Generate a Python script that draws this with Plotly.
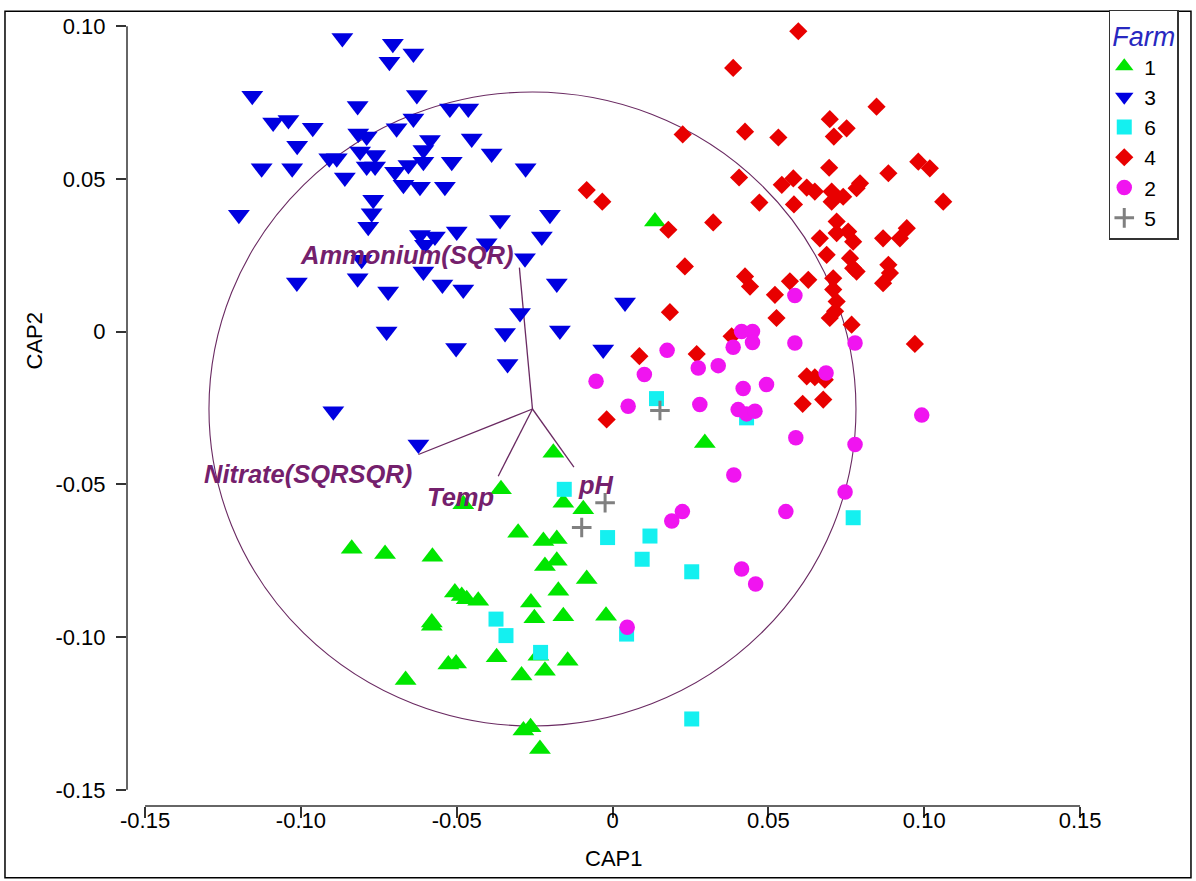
import plotly.graph_objects as go

# ---- CAP ordination scores per farm ----
farm1_x = [0.0136, 0.0296, -0.0190, -0.0358, -0.0479, -0.0158, -0.0094, -0.0303, -0.0222, -0.0179,
           -0.0837, -0.0730, -0.0578, -0.0217, -0.0179, -0.0083, -0.0506, -0.0484, -0.0468, -0.0431,
           -0.0174, -0.0262, -0.0251, -0.0158, -0.0021, -0.0580, -0.0580, -0.0372, -0.0527, -0.0502,
           -0.0292, -0.0217, -0.0144, -0.0664, -0.0286, -0.0263, -0.0233, -0.0238]
farm1_y = [0.0361, -0.0364, -0.0396, -0.0516, -0.0565, -0.0560, -0.0581, -0.0658, -0.0685, -0.0679,
           -0.0711, -0.0728, -0.0737, -0.0767, -0.0750, -0.0810, -0.0854, -0.0865, -0.0876, -0.0881,
           -0.0848, -0.0887, -0.0938, -0.0932, -0.0930, -0.0952, -0.0963, -0.1066, -0.1090, -0.1086,
           -0.1126, -0.1110, -0.1077, -0.1140, -0.1306, -0.1295, -0.1366, -0.1061]

farm3_x = [-0.0867, -0.0716, -0.1156, -0.0818, -0.1089, -0.1040, -0.0962, -0.1012, -0.0816, -0.0789,
           -0.1126, -0.1028, -0.0909, -0.0885, -0.0859, -0.0810, -0.0762, -0.0789, -0.0762, -0.0768,
           -0.0773, -0.0784, -0.1199, -0.0805, -0.1013, -0.0818, -0.0705, -0.0639, -0.0628, -0.0522,
           -0.0463, -0.0639, -0.0693, -0.0586, -0.0607, -0.0452, -0.0388, -0.0279, -0.0655, -0.0607,
           -0.0516, -0.0698, -0.0671, -0.0618, -0.0538, -0.0201, -0.0361, -0.0227, -0.0618, -0.0570,
           -0.0500, -0.0602, -0.0404, -0.0281, -0.0607, -0.0546, -0.0179, -0.0720, -0.0479, -0.0297,
           -0.0725, -0.0345, -0.0169, -0.0502, -0.0337, -0.0030, 0.0040, -0.0623, -0.0896]
farm3_y = [0.0962, 0.0884, 0.0773, 0.0739, 0.0685, 0.0693, 0.0668, 0.0609, 0.0649, 0.0639,
           0.0535, 0.0535, 0.0568, 0.0568, 0.0505, 0.0590, 0.0579, 0.0541, 0.0541, 0.0432,
           0.0388, 0.0344, 0.0383, 0.0236, 0.0161, 0.0175, 0.0943, 0.0911, 0.0775, 0.0731,
           0.0731, 0.0698, 0.0666, 0.0628, 0.0595, 0.0633, 0.0584, 0.0535, 0.0546, 0.0557,
           0.0557, 0.0524, 0.0481, 0.0475, 0.0475, 0.0383, 0.0366, 0.0312, 0.0317, 0.0312,
           0.0328, 0.0285, 0.0290, 0.0241, 0.0197, 0.0155, 0.0158, 0.0132, 0.0138, 0.0061,
           0.0001, -0.0004, 0.0004, -0.0053, -0.0106, -0.0058, 0.0096, -0.0369, -0.0260]

farm6_x = [-0.0155, -0.0016, 0.0120, 0.0095, 0.0254, 0.0045, 0.0254, -0.0374, -0.0342, -0.0231,
           0.0141, 0.0430, 0.0772]
farm6_y = [-0.0516, -0.0674, -0.0669, -0.0745, -0.0786, -0.0990, -0.1268, -0.0941, -0.0995, -0.1050,
           -0.0219, -0.0282, -0.0609]

farm4_x = [0.0596, 0.0387, 0.0225, 0.0425, 0.0532, 0.0697, 0.0751, 0.0710, 0.0695, 0.0406,
           0.0543, 0.0580, 0.0623, 0.0649, 0.0703, 0.0740, 0.0783, 0.0703, 0.0471, 0.0582,
           0.0323, 0.0179, -0.0033, -0.0083, 0.0719, 0.0665, 0.0719, 0.0756, 0.0687, 0.0762,
           0.0232, 0.0425, 0.0441, 0.0521, 0.0569, 0.0628, 0.0526, 0.0772, 0.0184, 0.0086,
           0.0270, 0.0382, -0.0019, 0.0623, 0.0649, 0.0681, 0.0610, 0.0676, 0.0697, 0.0714,
           0.0719, 0.0708, 0.0708, 0.0767, 0.0783, 0.0868, 0.0890, 0.0970, 0.0847, 0.0981,
           0.1018, 0.0885, 0.0794, 0.1061, 0.0868, 0.0922, 0.0944, 0.0885, 0.0772]
farm4_y = [0.0984, 0.0864, 0.0646, 0.0655, 0.0636, 0.0696, 0.0666, 0.0639, 0.0537, 0.0505,
           0.0481, 0.0502, 0.0472, 0.0459, 0.0459, 0.0442, 0.0470, 0.0426, 0.0423, 0.0417,
           0.0358, 0.0334, 0.0426, 0.0464, 0.0361, 0.0306, 0.0323, 0.0328, 0.0252, 0.0241,
           0.0214, 0.0181, 0.0148, 0.0121, 0.0165, 0.0170, 0.0045, 0.0295, 0.0064, -0.0080,
           -0.0073, -0.0015, -0.0287, -0.0146, -0.0149, -0.0157, -0.0236, -0.0222, 0.0045, 0.0067,
           0.0099, 0.0138, 0.0175, 0.0023, 0.0197, 0.0159, 0.0192, -0.0040, 0.0737, 0.0557,
           0.0535, 0.0519, 0.0486, 0.0426, 0.0306, 0.0306, 0.0339, 0.0219, 0.0208]

farm2_x = [0.0585, 0.0175, 0.0102, 0.0050, 0.0275, 0.0339, 0.0387, 0.0414, 0.0449, 0.0449,
           0.0585, 0.0419, 0.0494, 0.0280, 0.0403, 0.0430, 0.0457, 0.0588, 0.0389, 0.0556,
           0.0224, 0.0190, 0.0778, 0.0778, 0.0746, 0.0685, -0.0053, 0.0992, 0.0414, 0.0459,
           0.0047]
farm2_y = [0.0119, -0.0061, -0.0140, -0.0244, -0.0119, -0.0111, -0.0051, 0.0001, 0.0001, -0.0035,
           -0.0037, -0.0186, -0.0173, -0.0238, -0.0255, -0.0269, -0.0260, -0.0347, -0.0469, -0.0589,
           -0.0589, -0.0620, -0.0037, -0.0369, -0.0525, -0.0135, -0.0162, -0.0273, -0.0777, -0.0826,
           -0.0968]

farm5_x = [0.0152, -0.0024, -0.0099]
farm5_y = [-0.0258, -0.0560, -0.0641]

# ---- environmental vectors (origin = centre of correlation circle) ----
vec_names = ["Ammonium(SQR)", "Nitrate(SQRSQR)", "Temp", "pH"]
vec_x = [-0.0299, -0.0623, -0.0367, -0.0124]
vec_y = [0.0210, -0.0402, -0.0473, -0.0443]
circle_cx = -0.0257
circle_cy = -0.0253
circle_r = 0.1038

# ---- axes ----
x_ticks = [-0.15, -0.10, -0.05, 0.0, 0.05, 0.10, 0.15]
x_ticktext = ["-0.15", "-0.10", "-0.05", "0", "0.05", "0.10", "0.15"]
y_ticks = [-0.15, -0.10, -0.05, 0.0, 0.05, 0.10]
y_ticktext = ["-0.15", "-0.10", "-0.05", "0", "0.05", "0.10"]
x_range = [-0.1558, 0.1564]
y_range = [-0.1553, 0.1047]

FONT = "Liberation Sans, Arial, sans-serif"
VEC_COLOR = "#6a2a62"
LABEL_COLOR = "#74206c"

groups = [
    ("1", farm1_x, farm1_y, dict(symbol="triangle-up", size=19, color="#00e600")),
    ("3", farm3_x, farm3_y, dict(symbol="triangle-down", size=19, color="#0000e0")),
    ("6", farm6_x, farm6_y, dict(symbol="square", size=15, color="#14f0f0")),
    ("4", farm4_x, farm4_y, dict(symbol="diamond", size=14, color="#e80000")),
    ("2", farm2_x, farm2_y, dict(symbol="circle", size=15.5, color="#f014f0")),
    ("5", farm5_x, farm5_y, dict(symbol="cross-thin", size=14, color="#808080",
                                 line=dict(width=3, color="#808080"))),
]

fig = go.Figure()

# vectors from the circle centre
for vx, vy in zip(vec_x, vec_y):
    fig.add_trace(go.Scatter(x=[circle_cx, vx], y=[circle_cy, vy], mode="lines",
                             line=dict(color=VEC_COLOR, width=1.3),
                             showlegend=False, hoverinfo="skip"))

for name, xs, ys, mk in groups:
    m = dict(mk)
    if "line" not in m:
        m["line"] = dict(width=0)
    fig.add_trace(go.Scatter(x=xs, y=ys, mode="markers", name=name, marker=m))

# correlation circle
shapes = [
    dict(type="circle", xref="x", yref="y",
         x0=circle_cx - circle_r, x1=circle_cx + circle_r,
         y0=circle_cy - circle_r, y1=circle_cy + circle_r,
         line=dict(color=VEC_COLOR, width=1.1), layer="below"),
    # range-frame axis lines spanning the tick range only
    dict(type="line", xref="x", yref="paper", x0=min(x_ticks), x1=max(x_ticks), y0=0, y1=0,
         line=dict(color="#333333", width=1.5)),
    dict(type="line", xref="paper", yref="y", x0=0, x1=0, y0=min(y_ticks), y1=max(y_ticks),
         line=dict(color="#333333", width=1.5)),
    # outer frame
    dict(type="rect", xref="paper", yref="paper", x0=-0.1254, x1=1.0935, y0=-0.0905, y1=1.001,
         line=dict(color="black", width=1.5)),
]

label_pos = {
    "Ammonium(SQR)": dict(xanchor="right", yanchor="bottom", xshift=-3, yshift=-3),
    "Nitrate(SQRSQR)": dict(xanchor="right", yanchor="top", xshift=-4, yshift=-3),
    "Temp": dict(xanchor="right", yanchor="top", xshift=-2, yshift=-5),
    "pH": dict(xanchor="left", yanchor="top", xshift=2, yshift=-2),
}
annotations = []
for nm, vx, vy in zip(vec_names, vec_x, vec_y):
    annotations.append(dict(x=vx, y=vy, xref="x", yref="y", text="<b><i>%s</i></b>" % nm,
                            showarrow=False, font=dict(family=FONT, size=25.5, color=LABEL_COLOR),
                            **label_pos[nm]))
annotations.append(dict(x=0.5, y=-0.066, xref="paper", yref="paper", text="CAP1", showarrow=False,
                        xanchor="center", yanchor="middle", font=dict(family=FONT, size=22, color="black")))
annotations.append(dict(x=-0.095, y=-0.003, xref="paper", yref="y", text="CAP2", showarrow=False,
                        textangle=-90, xanchor="center", yanchor="middle",
                        font=dict(family=FONT, size=22, color="black")))

tick_font = dict(family=FONT, size=22, color="black")
fig.update_layout(
    width=1196, height=881,
    margin=dict(l=127, r=96, t=10, b=75),
    paper_bgcolor="white", plot_bgcolor="white",
    showlegend=True,
    legend=dict(title=dict(text="<i>Farm</i>", font=dict(family=FONT, size=27, color="#2828c0")),
                font=dict(family=FONT, size=21, color="black"),
                x=1.009, xanchor="left", y=1.003, yanchor="top",
                bordercolor="#333333", borderwidth=1.5, bgcolor="white",
                tracegroupgap=0, indentation=-6),
    xaxis=dict(range=x_range, tickvals=x_ticks, ticktext=x_ticktext, ticks="outside", ticklen=11,
               tickwidth=1.5, tickcolor="#333333", showline=False, showgrid=False, zeroline=False,
               tickfont=tick_font, ticklabelstandoff=-16, fixedrange=True),
    yaxis=dict(range=y_range, tickvals=y_ticks, ticktext=y_ticktext, ticks="outside", ticklen=10,
               tickwidth=1.5, tickcolor="#333333", showline=False, showgrid=False, zeroline=False,
               tickfont=tick_font, ticklabelstandoff=6, fixedrange=True),
    xaxis2=dict(range=x_range, overlaying="x", anchor="y", side="bottom", tickvals=x_ticks,
                ticks="inside", ticklen=11, tickwidth=1.5, tickcolor="#333333",
                showticklabels=False, showline=False, showgrid=False, zeroline=False),
    yaxis2=dict(range=y_range, overlaying="y", anchor="x", side="left", tickvals=y_ticks,
                ticks="inside", ticklen=10, tickwidth=1.5, tickcolor="#333333",
                showticklabels=False, showline=False, showgrid=False, zeroline=False),
    shapes=shapes,
    annotations=annotations,
)

fig.write_html("out.html")
